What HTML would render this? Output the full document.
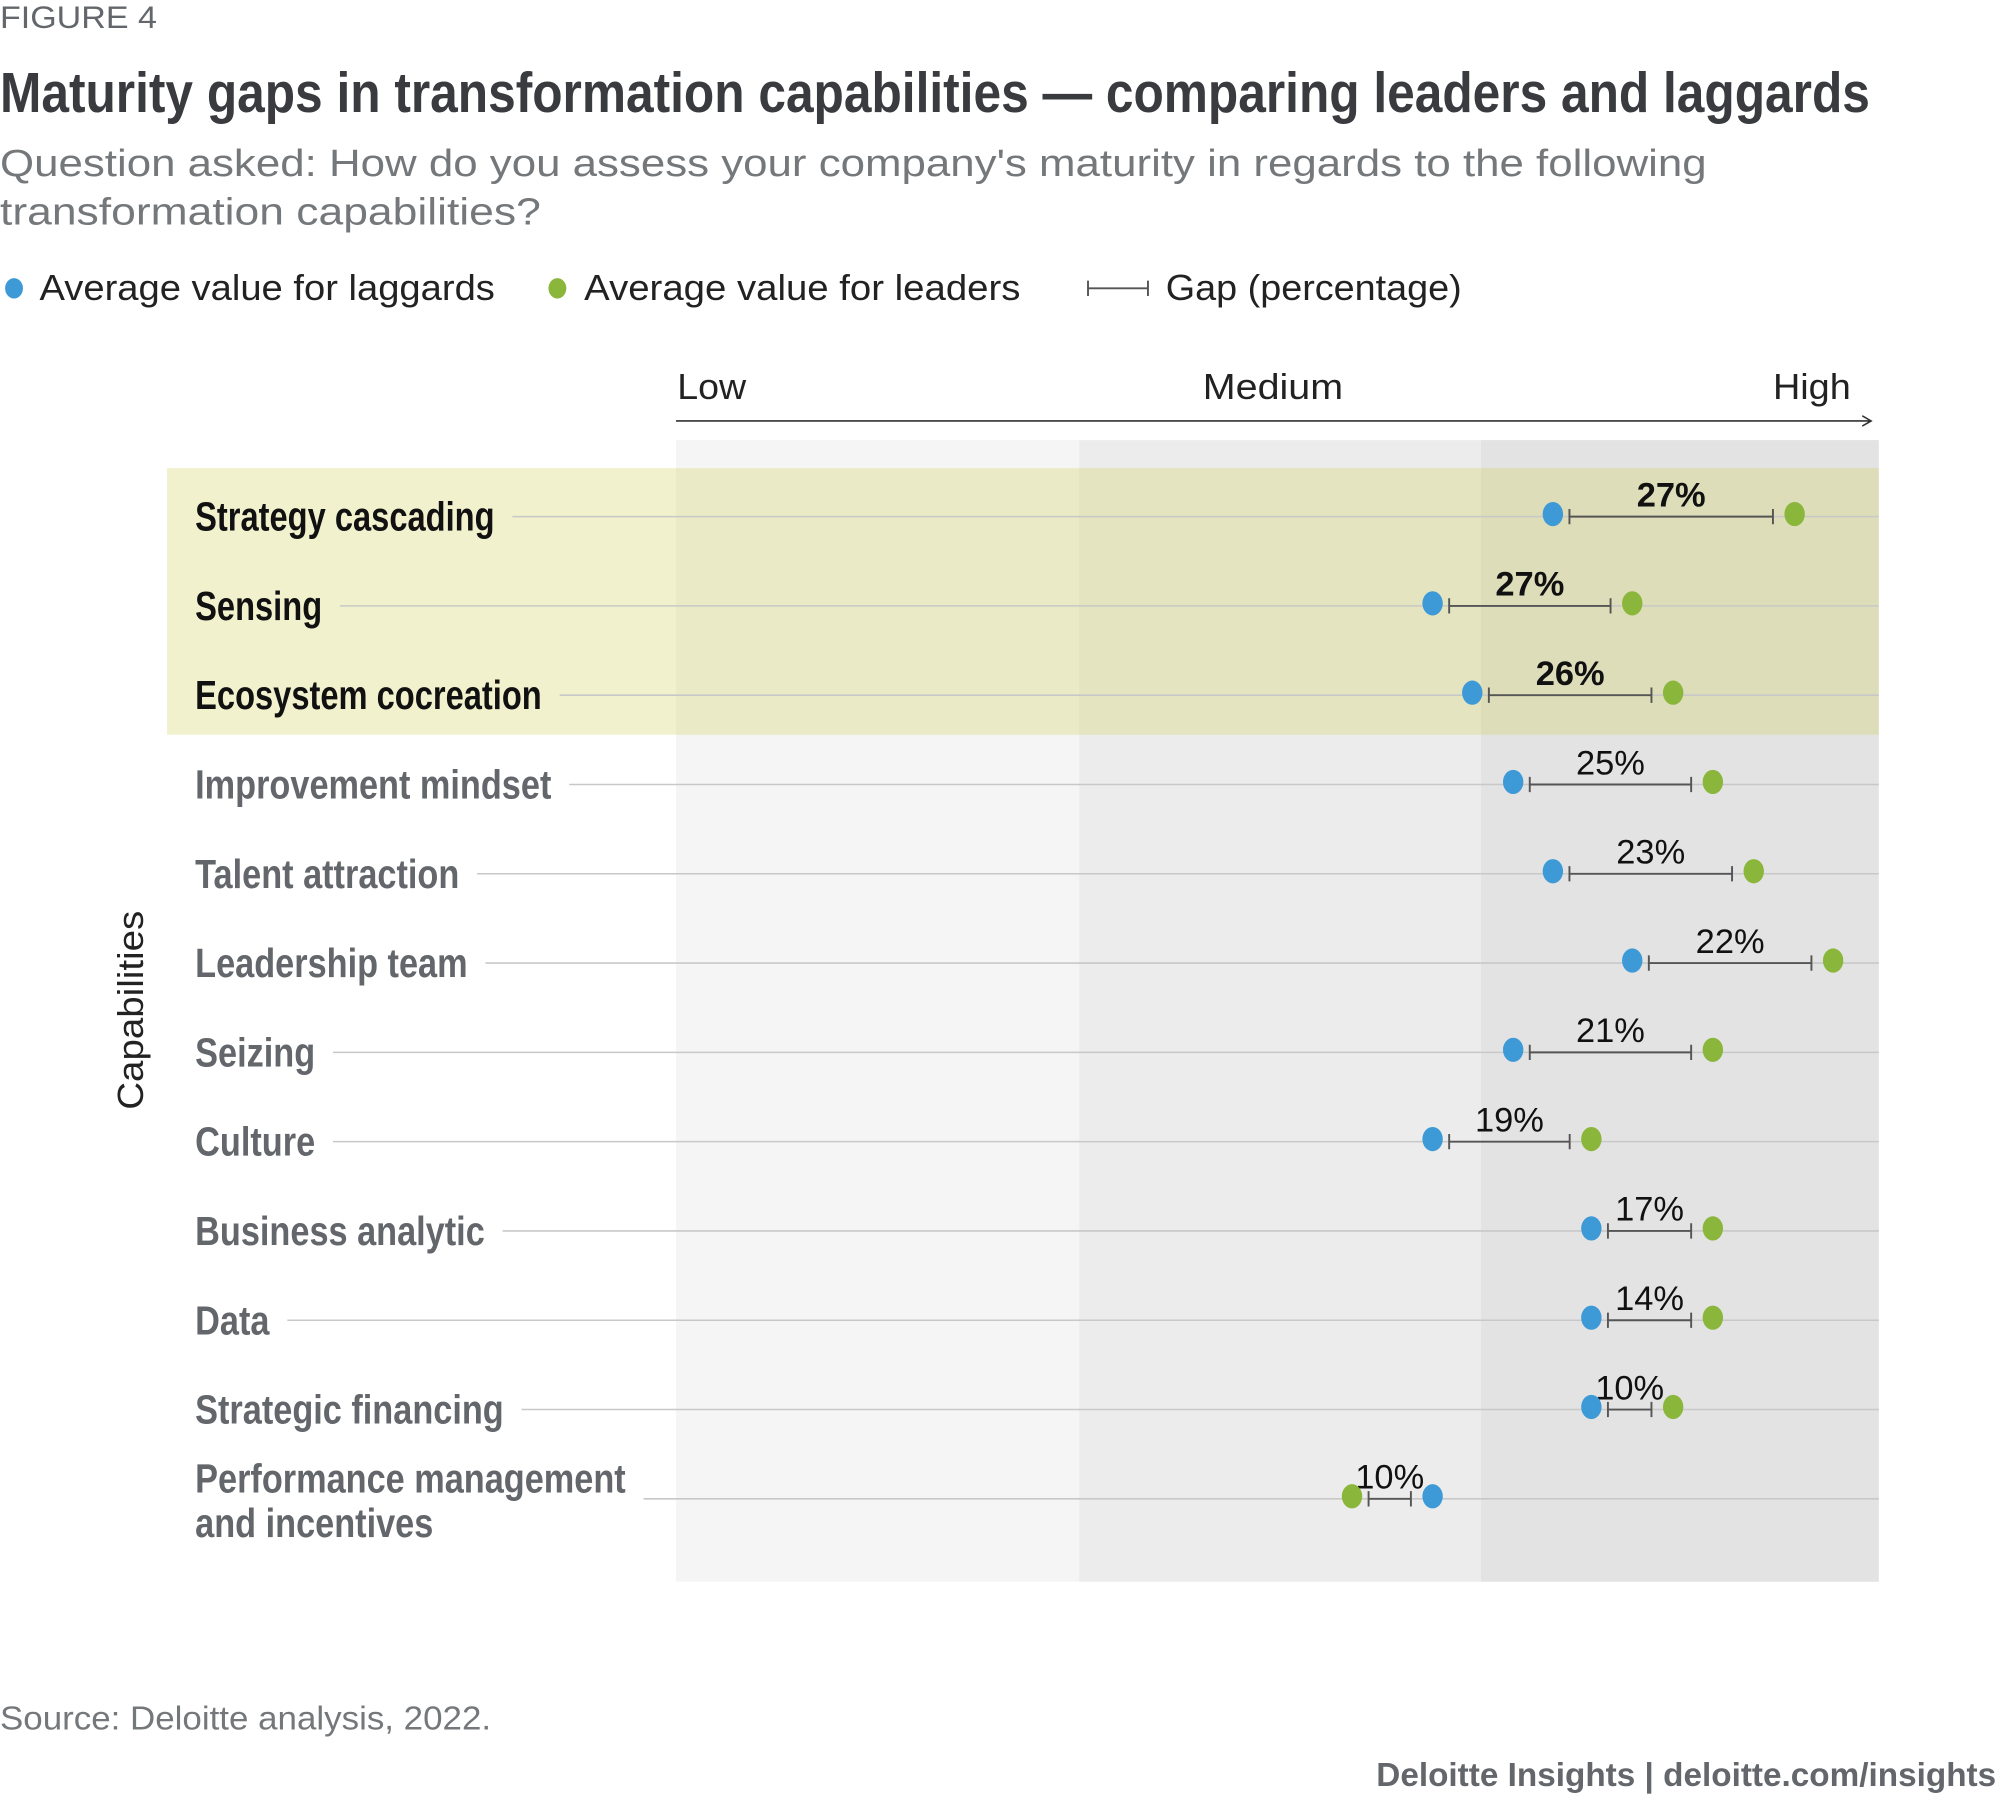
<!DOCTYPE html>
<html><head><meta charset="utf-8"><style>
html,body{margin:0;padding:0;background:#fff}
svg{display:block}
text{font-family:"Liberation Sans",sans-serif}
</style></head><body>
<svg id="chart" width="2000" height="1819" viewBox="0 0 1568 1426" preserveAspectRatio="none" xmlns="http://www.w3.org/2000/svg">
<text x="0" y="22" font-size="25" fill="#63666a" textLength="123" lengthAdjust="spacingAndGlyphs">FIGURE 4</text>
<text x="0" y="88" font-size="44" font-weight="bold" fill="#3a3b3f" textLength="1466" lengthAdjust="spacingAndGlyphs">Maturity gaps in transformation capabilities — comparing leaders and laggards</text>
<text x="0" y="138" font-size="30" fill="#75787b" textLength="1338" lengthAdjust="spacingAndGlyphs">Question asked: How do you assess your company's maturity in regards to the following</text>
<text x="0" y="176" font-size="30" fill="#75787b" textLength="424" lengthAdjust="spacingAndGlyphs">transformation capabilities?</text>
<g>
<ellipse cx="11" cy="226" rx="7" ry="8" fill="#3d9ad6"/>
<text x="31" y="235" font-size="28" fill="#222" textLength="357" lengthAdjust="spacingAndGlyphs">Average value for laggards</text>
<ellipse cx="437" cy="226" rx="7" ry="8" fill="#8ab63b"/>
<text x="458" y="235" font-size="28" fill="#222" textLength="342" lengthAdjust="spacingAndGlyphs">Average value for leaders</text>
<path d="M853 226H900M853 220V232M900 220V232" stroke="#555" stroke-width="1.5"/>
<text x="914" y="235" font-size="28" fill="#222" textLength="232" lengthAdjust="spacingAndGlyphs">Gap (percentage)</text>
</g>
<text x="531" y="313" font-size="28" fill="#222" textLength="54" lengthAdjust="spacingAndGlyphs">Low</text>
<text x="943" y="313" font-size="28" fill="#222" textLength="110" lengthAdjust="spacingAndGlyphs">Medium</text>
<text x="1390" y="313" font-size="28" fill="#222" textLength="61" lengthAdjust="spacingAndGlyphs">High</text>
<path d="M530 330H1467M1460 326L1467 330L1460 334" stroke="#333" stroke-width="1.2" fill="none"/>
<rect x="530" y="345" width="316" height="895" fill="#f5f5f5"/>
<rect x="846" y="345" width="315" height="895" fill="#ececec"/>
<rect x="1161" y="345" width="312" height="895" fill="#e3e3e3"/>
<rect x="131" y="367" width="1342" height="209" fill="rgba(208,208,88,0.3)"/>
<text transform="translate(112,792) rotate(-90)" text-anchor="middle" font-size="28" fill="#222" textLength="156" lengthAdjust="spacingAndGlyphs">Capabilities</text>
<g id="rows"></g>
<text x="0" y="1356" font-size="26" fill="#75787b" textLength="385" lengthAdjust="spacingAndGlyphs">Source: Deloitte analysis, 2022.</text>
<text x="1565" y="1400" text-anchor="end" font-size="26" font-weight="bold" fill="#63666a" textLength="486" lengthAdjust="spacingAndGlyphs">Deloitte Insights | deloitte.com/insights</text>
</svg>
<script>
const categories = ["Strategy cascading","Sensing","Ecosystem cocreation","Improvement mindset","Talent attraction","Leadership team","Seizing","Culture","Business analytic","Data","Strategic financing","Performance management|and incentives"];
const laggards = [72.9,62.9,66.2,69.6,72.9,79.5,69.6,62.9,76.1,76.1,76.1,62.9];
const leaders = [93.0,79.5,82.9,86.2,89.6,96.2,86.2,76.1,86.2,86.2,82.9,56.2];
const gapLabels = ["27%","27%","26%","25%","23%","22%","21%","19%","17%","14%","10%","10%"];
const highlighted = [true,true,true,false,false,false,false,false,false,false,false,false];
const NS="http://www.w3.org/2000/svg";
const x = v => 530 + v*9.43;
const y = i => 405 + i*70;
const g = document.getElementById('rows');
function mk(tag, attrs){const e=document.createElementNS(NS,tag);for(const k in attrs)e.setAttribute(k,attrs[k]);g.appendChild(e);return e;}
categories.forEach((c,i)=>{
  const yy=y(i), hl=highlighted[i];
  const SX=hl?0.8:0.84;
  const lines=c.split('|');
  const ty=lines.length>1?yy-5:yy+11;
  const t=mk('text',{x:0,y:0,transform:`translate(153,${ty}) scale(${SX},1)`,'font-size':32,'font-weight':'bold',fill:hl?'#111':'#63666a'});
  
  
  lines.forEach((l,j)=>{const s=document.createElementNS(NS,'tspan');s.setAttribute('x',0);if(j>0)s.setAttribute('dy',35);s.textContent=l;t.appendChild(s);});
  let w=0;
  for(const s of t.childNodes){try{w=Math.max(w,s.getComputedTextLength());}catch(e){}}
  const ln=mk('line',{x1:153+w*SX+14,x2:1473,y1:yy,y2:yy,stroke:'#c8c8c8','stroke-width':1.2});
  
  
  const a=x(Math.min(laggards[i],leaders[i]))+13, b=x(Math.max(laggards[i],leaders[i]))-17;
  const gp=mk('path',{d:`M${a} ${yy}H${b}M${a} ${yy-6}V${yy+6}M${b} ${yy-6}V${yy+6}`,stroke:'#555','stroke-width':1.5,fill:'none'});
  
  
  const gl=mk('text',{x:(a+b)/2,y:yy-8,'text-anchor':'middle','font-size':27,'font-weight':hl?'bold':'normal',fill:'#111'});
  
  
  gl.textContent=gapLabels[i];
  const d1=mk('ellipse',{cx:x(laggards[i]),cy:yy-2,rx:8,ry:9.5,fill:'#3d9ad6'});
  
  
  const d2=mk('ellipse',{cx:x(leaders[i]),cy:yy-2,rx:8,ry:9.5,fill:'#8ab63b'});
  
  
});
</script>
</body></html>
